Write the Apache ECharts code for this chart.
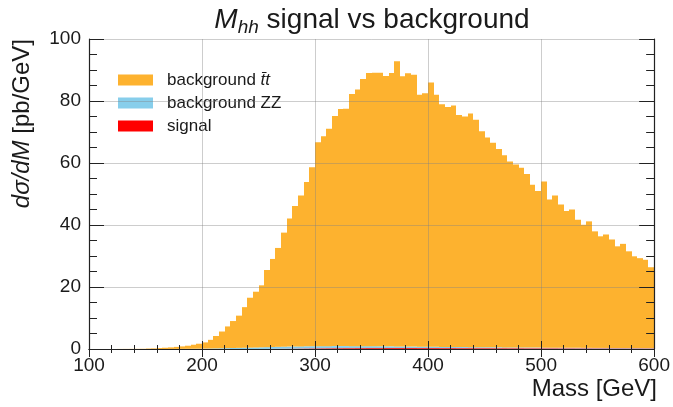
<!DOCTYPE html>
<html>
<head>
<meta charset="utf-8">
<script src="https://cdn.jsdelivr.net/npm/echarts@6/dist/echarts.min.js"></script>
<style>html,body{margin:0;padding:0;background:#fff;}#c{width:673px;height:407px;}</style>
</head>
<body>
<div id="c"></div>
<script>
// Bin edges (GeV)
const binEdges = [100,105,110,115,120,125,130,135,140,145,150,155,160,165,170,175,180,185,190,195,
200,205,210,215,220,225,230,235,240,245,250,255,260,265,270,275,280,285,290,295,
300,305,310,315,320,325,330,335,340,345,350,355,360,365,370,375,380,385,390,395,
400,405,410,415,420,425,430,435,440,445,450,455,460,465,470,475,480,485,490,495,
500,505,510,515,520,525,530,535,540,545,550,555,560,565,570,575,580,585,590,595,600];

// background ttbar (pb/GeV)
const ttValues = [0,0,0,0.01,0.01,0.02,0.03,0.04,0.05,0.07,
0.15,0.2,0.3,0.4,0.5,0.65,0.8,1.0,1.3,1.6,
2.0,2.8,4.0,5.4,7.0,8.7,10.4,13.1,16.1,18.0,
20.0,24.9,28.4,31.9,36.8,41.3,45.3,48.7,53.0,57.7,
65.8,67.7,70.1,74.2,76.5,76.6,81.3,82.8,86.2,88.1,
88.2,88.2,87.2,88.2,92.0,87.2,88.2,87.7,81.3,81.8,
85.3,81.3,78.3,77.4,77.9,74.9,74.4,75.4,73.4,69.7,
67.7,66.0,64.0,62.0,60.0,59.0,58.0,56.0,52.5,50.5,
53.6,47.8,49.1,46.2,44.1,44.6,41.3,39.7,40.8,37.6,
36.0,36.6,35.0,32.8,33.6,31.2,29.6,29.0,28.5,26.1];

// background ZZ (pb/GeV)
const zzValues = [0,0,0,0,0,0,0,0,0,0,
0,0,0,0.01,0.02,0.03,0.04,0.06,0.08,0.1,
0.13,0.16,0.2,0.24,0.28,0.32,0.36,0.4,0.44,0.48,
0.52,0.56,0.6,0.63,0.65,0.67,0.68,0.69,0.7,0.7,
0.7,0.7,0.69,0.69,0.68,0.67,0.66,0.65,0.64,0.63,
0.62,0.6,0.58,0.56,0.54,0.52,0.5,0.48,0.46,0.44,
0.42,0.41,0.4,0.38,0.37,0.36,0.35,0.34,0.33,0.32,
0.31,0.3,0.29,0.28,0.27,0.26,0.25,0.25,0.24,0.23,
0.22,0.22,0.21,0.2,0.2,0.19,0.19,0.18,0.18,0.17,
0.17,0.16,0.16,0.15,0.15,0.15,0.14,0.14,0.13,0.13];

// signal (pb/GeV)
const signalValues = [0,0,0,0,0,0,0,0,0,0,
0,0,0,0,0,0,0,0,0,0,
0,0,0,0,0,0,0,0,0,0,
0.02,0.03,0.05,0.07,0.09,0.11,0.13,0.15,0.17,0.19,
0.21,0.22,0.23,0.24,0.25,0.26,0.26,0.27,0.27,0.28,
0.28,0.28,0.29,0.29,0.29,0.29,0.29,0.29,0.28,0.28,
0.28,0.28,0.27,0.27,0.27,0.26,0.26,0.26,0.25,0.25,
0.25,0.24,0.24,0.24,0.23,0.23,0.23,0.22,0.22,0.22,
0.21,0.21,0.21,0.2,0.2,0.2,0.19,0.19,0.19,0.18,
0.18,0.18,0.17,0.17,0.17,0.16,0.16,0.16,0.15,0.15];

const xTicks = [100,200,300,400,500,600];
const yTicks = [0,20,40,60,80,100];

const FONT = '"Liberation Sans", Arial, Helvetica, sans-serif';
const TXT = '#1a1a1a';

// build stacked rows: [lo, hi, base, top]  (stack: signal bottom, ZZ, ttbar on top)
function buildRows(vals, bases) {
  return vals.map((v, i) => [binEdges[i], binEdges[i + 1], bases[i], bases[i] + v]);
}
const base0 = signalValues.map(() => 0);
const baseZZ = signalValues.slice();
const baseTT = signalValues.map((s, i) => s + zzValues[i]);

function renderItem(params, api) {
  const lo = api.value(0), hi = api.value(1), b = api.value(2), t = api.value(3);
  if (!(t > b)) return null;
  const p0 = api.coord([lo, b]);
  const p1 = api.coord([hi, t]);
  const x0 = Math.round(p0[0]), x1 = Math.round(p1[0]);
  const c = api.visual('color');
  return {
    type: 'rect',
    shape: { x: x0, y: p1[1], width: x1 - x0, height: p0[1] - p1[1] },
    style: { fill: c }
  };
}

const gridLine = { show: true, lineStyle: { color: 'rgba(130,130,130,0.4)', width: 1 } };
const axisLineStyle = { show: true, lineStyle: { color: '#222', width: 1.2 } };

const chart = echarts.init(document.getElementById('c'), null, { renderer: 'canvas' });
chart.setOption({
  animation: false,
  backgroundColor: '#fff',
  grid: { left: 89, right: 17, top: 39, bottom: 58, containLabel: false },
  legend: {
    data: ['bkg_tt', 'bkg_zz', 'signal'],
    orient: 'vertical',
    left: 113,
    top: 65,
    icon: 'rect',
    itemWidth: 35,
    itemHeight: 11,
    itemGap: 3,
    formatter: function (name) {
      if (name === 'bkg_tt') return '{p|}background {i|t\u0304t}';
      if (name === 'bkg_zz') return '{p|}background ZZ';
      return '{p|}signal';
    },
    textStyle: {
      fontFamily: FONT, fontSize: 17, color: TXT, lineHeight: 20,
      rich: {
        p: { width: 9 },
        i: { fontStyle: 'italic', fontFamily: FONT, fontSize: 17, color: TXT }
      }
    }
  },
  xAxis: [
    {
      type: 'value', min: xTicks[0], max: xTicks[xTicks.length - 1], interval: 100,
      position: 'bottom', z: 10,
      axisLine: axisLineStyle,
      axisTick: { show: true, inside: true, length: 8, lineStyle: { color: '#222', width: 1 } },
      minorTick: { show: true, splitNumber: 5, length: 4, lineStyle: { color: '#222', width: 1 } },
      splitLine: gridLine,
      axisLabel: { fontFamily: FONT, fontSize: 19, color: TXT, margin: 7 }
    },
    {
      type: 'value', min: xTicks[0], max: xTicks[xTicks.length - 1], interval: 100,
      position: 'top', z: 10,
      axisLine: axisLineStyle,
      axisTick: { show: true, inside: true, length: 8, lineStyle: { color: '#222', width: 1 } },
      minorTick: { show: true, splitNumber: 5, length: 4, lineStyle: { color: '#222', width: 1 } },
      splitLine: { show: false },
      axisLabel: { show: false }
    }
  ],
  yAxis: [
    {
      type: 'value', min: yTicks[0], max: yTicks[yTicks.length - 1], interval: 20,
      position: 'left', z: 10,
      axisLine: axisLineStyle,
      axisTick: { show: true, inside: true, length: 15, lineStyle: { color: '#222', width: 1 } },
      minorTick: { show: true, splitNumber: 4, length: 8, lineStyle: { color: '#222', width: 1 } },
      splitLine: gridLine,
      axisLabel: { fontFamily: FONT, fontSize: 19, color: TXT, margin: 8 }
    },
    {
      type: 'value', min: yTicks[0], max: yTicks[yTicks.length - 1], interval: 20,
      position: 'right', z: 10,
      axisLine: axisLineStyle,
      axisTick: { show: true, inside: true, length: 15, lineStyle: { color: '#222', width: 1 } },
      minorTick: { show: true, splitNumber: 4, length: 8, lineStyle: { color: '#222', width: 1 } },
      splitLine: { show: false },
      axisLabel: { show: false }
    }
  ],
  series: [
    {
      name: 'signal', type: 'custom', renderItem: renderItem, z: 2,
      xAxisIndex: 0, yAxisIndex: 0,
      itemStyle: { color: '#ff0000' },
      encode: { x: [0, 1], y: [2, 3] },
      data: buildRows(signalValues, base0)
    },
    {
      name: 'bkg_zz', type: 'custom', renderItem: renderItem, z: 2,
      xAxisIndex: 0, yAxisIndex: 0,
      itemStyle: { color: '#87ceeb' },
      encode: { x: [0, 1], y: [2, 3] },
      data: buildRows(zzValues, baseZZ)
    },
    {
      name: 'bkg_tt', type: 'custom', renderItem: renderItem, z: 2,
      xAxisIndex: 0, yAxisIndex: 0,
      itemStyle: { color: '#fdb22f' },
      encode: { x: [0, 1], y: [2, 3] },
      data: buildRows(ttValues, baseTT)
    }
  ],
  graphic: [
    {
      type: 'text', x: 372, y: 20,
      style: {
        text: '{i|M}{s|hh}{n| signal vs background}',
        textAlign: 'center', textVerticalAlign: 'middle',
        fill: TXT,
        rich: {
          i: { fontFamily: FONT, fontSize: 28, fontStyle: 'italic', fill: TXT, verticalAlign: 'middle' },
          s: { fontFamily: FONT, fontSize: 19, fontStyle: 'italic', fill: TXT, padding: [16, 0, 0, 0], verticalAlign: 'bottom' },
          n: { fontFamily: FONT, fontSize: 28, fill: TXT, verticalAlign: 'middle' }
        }
      }
    },
    {
      type: 'text', x: 657, y: 389,
      style: {
        text: 'Mass [GeV]', textAlign: 'right', textVerticalAlign: 'middle',
        fontFamily: FONT, fontSize: 24, fill: TXT
      }
    },
    {
      type: 'text', x: 22, y: 39, rotation: Math.PI / 2,
      style: {
        text: '{i|d\u03c3/dM}{n| [pb/GeV]}',
        textAlign: 'right', textVerticalAlign: 'middle',
        fill: TXT,
        rich: {
          i: { fontFamily: FONT, fontSize: 24, fontStyle: 'italic', fill: TXT },
          n: { fontFamily: FONT, fontSize: 24, fill: TXT }
        }
      }
    }
  ]
});
</script>
</body>
</html>
